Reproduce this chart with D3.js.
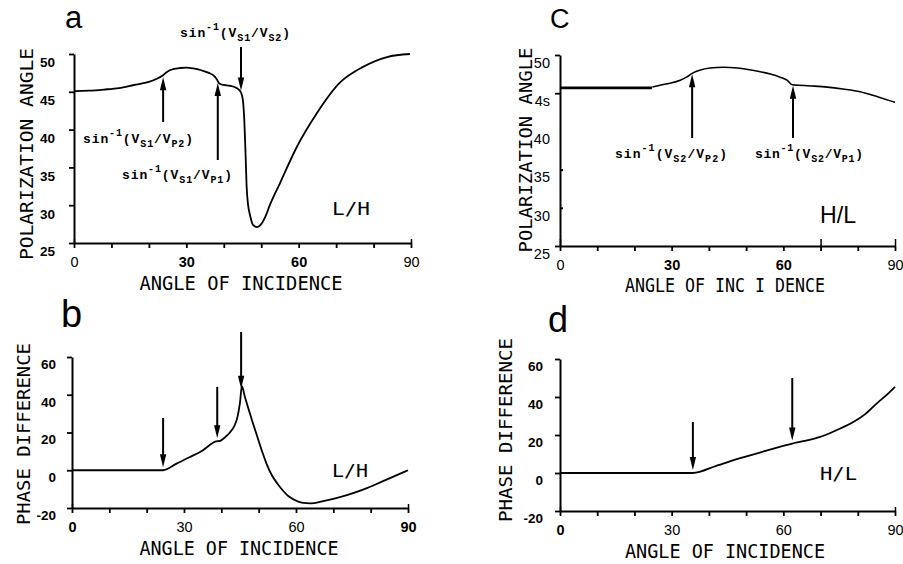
<!DOCTYPE html>
<html>
<head>
<meta charset="utf-8">
<script src="https://cdn.jsdelivr.net/npm/d3@7/dist/d3.min.js"></script>
<style>
  html, body { margin: 0; padding: 0; background: #fff; }
  svg { display: block; }
</style>
</head>
<body>
<svg id="chart" width="903" height="564"></svg>
<script>
// ---------------- DATA ----------------
const xTicks = [0, 30, 60, 90];
const xMinorTicks = [0, 10, 20, 30, 40, 50, 60, 70, 80, 90];
const polTicks = [25, 30, 35, 40, 45, 50];
const polTickLabelsC = ["25", "30", "35", "40", "4s", "50"];
const phaseTicks = [-20, 0, 20, 40, 60];

// panel a : L/H polarization angle
const angleA = [0, 4, 8, 12, 16, 20, 22, 23.8, 25, 26.5, 28.3, 30, 31.8, 34, 36, 37.6, 38.2, 38.8, 40, 41.5, 43, 44, 44.6, 45.1, 45.5, 45.8, 46.1, 46.5, 47.0, 47.8, 48.9, 50.0, 51.2, 52.3, 55.0, 59.5, 64.9, 71.0, 77.2, 83.6, 89.7];
const polA   = [45.1, 45.15, 45.3, 45.5, 45.9, 46.3, 46.7, 47.2, 47.7, 48.0, 48.15, 48.2, 48.1, 47.85, 47.5, 47.0, 46.6, 46.1, 45.9, 45.8, 45.6, 45.3, 44.9, 43.9, 41, 37, 32.5, 30.0, 28.7, 27.4, 27.1, 27.5, 28.6, 30.0, 32.9, 37.7, 42.2, 46.2, 48.3, 49.6, 50.0];

// panel b : L/H phase difference
const angleB = [0, 10, 20, 24.4, 28, 31.6, 35, 38.6, 39.6, 41, 42.3, 43.5, 44.3, 45.0, 45.5, 46.3, 47.2, 48.3, 49.6, 51, 52.2, 53.5, 55, 56.6, 58, 59.5, 61.5, 64, 67, 70, 74.5, 79, 83.3, 87, 90];
const phaseB = [0, 0, 0, 0, 3.5, 7, 10.5, 15.3, 15.5, 17.5, 20, 23.5, 28, 36, 44.5, 39, 33, 26, 18, 9.5, 3, -2.5, -7, -11, -13.8, -15.6, -17.1, -17.5, -16.5, -15.2, -12.7, -9.5, -5.8, -2.6, 0];

// panel c : H/L polarization angle (two drawn pieces)
const angleC1 = [0, 24.7];
const polC1   = [45.7, 45.7];
const angleC2 = [24.8, 26.9, 29.5, 32.3, 34, 35.5, 37.5, 40.3, 44, 47.6, 50.5, 53.8, 56.5, 59.1, 61, 62.4, 64, 67.5, 71.8, 76, 80.6, 85.5, 90];
const polC2   = [45.8, 46.05, 46.3, 46.7, 47.1, 47.6, 48.0, 48.3, 48.4, 48.3, 48.1, 47.8, 47.5, 47.1, 46.7, 46.1, 46.05, 45.95, 45.8, 45.55, 45.2, 44.5, 43.8];

// panel d : H/L phase difference
const angleD = [0, 10, 20, 30, 35.7, 42, 48.4, 55, 62.4, 65, 69.9, 74, 78.8, 82, 85.2, 88, 90];
const phaseD = [0, 0, 0, 0, 0, 3.8, 7.8, 11.5, 15.5, 16.6, 19, 22.3, 26.8, 31, 36.8, 41.5, 45.3];

// critical angles marked by arrows
const criticalA = [23.8, 38.4, 44.6];
const criticalB = [24.4, 38.9, 45.3];
const criticalC = [35.5, 62.6];
const criticalD = [35.7, 62.4];

// ---------------- DRAWING ----------------
const svg = d3.select("#chart");
const TITLE_FONT = "'DejaVu Sans Mono', 'Liberation Mono', monospace";
const NUM_FONT = "'Liberation Sans', Arial, sans-serif";
const SIN_FONT = "'Liberation Mono', 'DejaVu Sans Mono', monospace";

function valueAt(xs, ys, a) {
  for (let i = 1; i < xs.length; i++) {
    if (a <= xs[i]) {
      const t = (a - xs[i - 1]) / (xs[i] - xs[i - 1]);
      return ys[i - 1] + t * (ys[i] - ys[i - 1]);
    }
  }
  return ys[ys.length - 1];
}

function drawCurve(g, x, y, xs, ys, width) {
  const pts = xs.map((a, i) => [a, ys[i]]);
  g.append("path")
    .datum(pts)
    .attr("fill", "none")
    .attr("stroke", "#000")
    .attr("stroke-width", width)
    .attr("stroke-linejoin", "round")
    .attr("d", d3.line().x(d => x(d[0])).y(d => y(d[1])).curve(d3.curveMonotoneX));
}

function arrow(g, px, tailY, tipY) {
  const dir = tipY > tailY ? 1 : -1;
  const headLen = 13, headW = 3.2;
  g.append("line")
    .attr("x1", px).attr("x2", px)
    .attr("y1", tailY).attr("y2", tipY - dir * headLen * 0.8)
    .attr("stroke", "#000").attr("stroke-width", 2);
  g.append("path")
    .attr("d", `M${px},${tipY} L${px - headW},${tipY - dir * headLen} L${px + headW},${tipY - dir * headLen} Z`)
    .attr("fill", "#000");
}

function sinLabel(g, x, yb, sub1, sub2, width) {
  const t = g.append("text")
    .attr("x", x).attr("y", yb)
    .attr("font-family", SIN_FONT)
    .attr("font-weight", "bold")
    .attr("font-size", 13)
    .attr("textLength", width)
    .attr("lengthAdjust", "spacing");
  t.append("tspan").text("sin");
  t.append("tspan").attr("dy", -7).attr("font-size", 10).text("-1");
  t.append("tspan").attr("dy", 7).text("(V");
  t.append("tspan").attr("dy", 4).attr("font-size", 10).text(sub1);
  t.append("tspan").attr("dy", -4).text("/V");
  t.append("tspan").attr("dy", 4).attr("font-size", 10).text(sub2);
  t.append("tspan").attr("dy", -4).text(")");
}

function styleAxis(sel) {
  sel.select(".domain").attr("stroke", "#000").attr("stroke-width", 2);
  sel.selectAll(".tick line").attr("stroke", "#000").attr("stroke-width", 1.8);
}

function panel(cfg) {
  const g = svg.append("g");
  const x = d3.scaleLinear().domain([0, 90]).range(cfg.xr);
  const y = d3.scaleLinear().domain(cfg.yd).range(cfg.yr);

  // x axis line with minor ticks
  const xa = g.append("g").attr("transform", `translate(0,${cfg.yr[0]})`)
    .call(d3.axisBottom(x).tickValues(xMinorTicks).tickSize(5).tickSizeOuter(0).tickFormat(""));
  styleAxis(xa);
  // ticks crossing above the axis
  g.append("g").attr("transform", `translate(0,${cfg.yr[0]})`)
    .call(d3.axisTop(x).tickValues(cfg.xUpTicks).tickSize(cfg.xUpSize).tickFormat(""))
    .call(s => { s.select(".domain").remove(); s.selectAll(".tick line").attr("stroke", "#000").attr("stroke-width", 1.5); });

  // x tick labels
  const xl = g.append("g").attr("transform", `translate(0,${cfg.yr[0]})`)
    .call(d3.axisBottom(x).tickValues(xTicks).tickSize(0).tickPadding(cfg.xPad));
  xl.select(".domain").remove();
  xl.selectAll(".tick text")
    .attr("font-family", NUM_FONT)
    .attr("font-size", 14.5)
    .attr("fill", "#000")
    .attr("font-weight", (d, i) => cfg.xBold[i] ? "bold" : "normal");

  // y axis
  const ya = g.append("g").attr("transform", `translate(${cfg.xr[0]},0)`)
    .call(d3.axisLeft(y).tickValues(cfg.yTickMarks).tickSize(5).tickSizeOuter(0).tickFormat(""));
  styleAxis(ya);
  if (cfg.yRightTicks) {
    g.append("g").attr("transform", `translate(${cfg.xr[0]},0)`)
      .call(d3.axisRight(y).tickValues(cfg.yRightTicks).tickSize(3).tickFormat(""))
      .call(s => { s.select(".domain").remove(); s.selectAll(".tick line").attr("stroke", "#000").attr("stroke-width", 2); });
  }
  const yl = g.append("g").attr("transform", `translate(${cfg.xr[0]},0)`)
    .call(d3.axisLeft(y).tickValues(cfg.yTicks).tickSize(0).tickPadding(cfg.yPad)
      .tickFormat((d, i) => cfg.yLabels ? cfg.yLabels[i] : d));
  yl.select(".domain").remove();
  yl.selectAll(".tick text")
    .attr("font-family", NUM_FONT)
    .attr("font-size", cfg.yFont)
    .attr("font-weight", cfg.yBold ? "bold" : "normal")
    .attr("fill", "#000")
    .attr("dy", cfg.yDy);

  // axis titles
  g.append("text")
    .attr("x", cfg.xTitle[0]).attr("y", cfg.xTitle[1])
    .attr("text-anchor", "middle")
    .attr("font-family", TITLE_FONT).attr("font-size", 19)
    .attr("textLength", cfg.xTitle[2]).attr("lengthAdjust", "spacingAndGlyphs")
    .text(cfg.xTitleText);
  g.append("text")
    .attr("transform", `translate(${cfg.yTitle[0]},${cfg.yTitle[1]}) rotate(-90)`)
    .attr("text-anchor", "middle")
    .attr("font-family", TITLE_FONT).attr("font-size", 18)
    .attr("textLength", cfg.yTitle[2]).attr("lengthAdjust", "spacingAndGlyphs")
    .text(cfg.yTitleText);

  // panel letter
  g.append("text")
    .attr("x", cfg.letter[0]).attr("y", cfg.letter[1])
    .attr("font-family", NUM_FONT).attr("font-size", cfg.letter[2])
    .text(cfg.letterText);

  // case label
  g.append("text")
    .attr("x", cfg.caseLabel[0]).attr("y", cfg.caseLabel[1])
    .attr("font-family", cfg.caseFont).attr("font-size", cfg.caseLabel[2])
    .attr("textLength", cfg.caseLabel[3]).attr("lengthAdjust", "spacingAndGlyphs")
    .text(cfg.caseText);

  return { g, x, y };
}

// ---- Panel a ----
{
  const p = panel({
    xr: [74, 411], yd: [25, 50], yr: [243, 54],
    xUpTicks: [0, 90], xUpSize: 4, xPad: 14, xBold: [false, true, true, false],
    yTicks: polTicks, yTickMarks: polTicks, yPad: 19, yFont: 13.5, yBold: true, yDy: "0.95em",
    xTitle: [241, 290, 203], xTitleText: "ANGLE OF INCIDENCE",
    yTitle: [33, 154, 212], yTitleText: "POLARIZATION ANGLE",
    letter: [65, 28, 31], letterText: "a",
    caseLabel: [332, 215, 17, 38], caseText: "L/H", caseFont: TITLE_FONT
  });
  drawCurve(p.g, p.x, p.y, angleA, polA, 1.8);
  arrow(p.g, p.x(criticalA[0]), 122, p.y(valueAt(angleA, polA, criticalA[0])) + 2);
  arrow(p.g, p.x(criticalA[1]), 160, p.y(valueAt(angleA, polA, criticalA[1])) + 2);
  arrow(p.g, p.x(criticalA[2]), 47, p.y(valueAt(angleA, polA, criticalA[2])) - 2);
  sinLabel(p.g, 83, 143, "S1", "P2", 110);
  sinLabel(p.g, 122, 179, "S1", "P1", 110);
  sinLabel(p.g, 180, 37, "S1", "S2", 110);
}

// ---- Panel b ----
{
  const p = panel({
    xr: [72, 408], yd: [-20, 60], yr: [508, 357],
    xUpTicks: [0, 90], xUpSize: 4, xPad: 14, xBold: [true, false, false, true],
    yTicks: phaseTicks, yTickMarks: phaseTicks, yPad: 16, yFont: 13.5, yBold: true, yDy: "0.85em",
    xTitle: [239, 555, 199], xTitleText: "ANGLE OF INCIDENCE",
    yTitle: [30, 434, 182], yTitleText: "PHASE DIFFERENCE",
    letter: [61, 327, 38], letterText: "b",
    caseLabel: [332, 477, 17, 36], caseText: "L/H", caseFont: TITLE_FONT
  });
  drawCurve(p.g, p.x, p.y, angleB, phaseB, 1.8);
  arrow(p.g, p.x(criticalB[0]), 418, p.y(valueAt(angleB, phaseB, criticalB[0])) - 3);
  arrow(p.g, p.x(criticalB[1]), 387, p.y(valueAt(angleB, phaseB, criticalB[1])) - 3);
  arrow(p.g, p.x(criticalB[2]), 332, p.y(valueAt(angleB, phaseB, criticalB[2])) - 4);
}

// ---- Panel c ----
{
  const p = panel({
    xr: [560, 895], yd: [25, 50], yr: [246, 55],
    xUpTicks: [0, 70, 90], xUpSize: 7, xPad: 14, xBold: [false, true, true, false],
    yTicks: polTicks, yLabels: polTickLabelsC, yTickMarks: [25, 45, 50], yRightTicks: [30, 35],
    yPad: 10, yFont: 14.5, yBold: false, yDy: "0.85em",
    xTitle: [725, 292, 200], xTitleText: "ANGLE OF INC I DENCE",
    yTitle: [532, 150, 205], yTitleText: "POLARIZATION ANGLE",
    letter: [550, 28, 27], letterText: "C",
    caseLabel: [820, 223, 24, 36], caseText: "H/L", caseFont: NUM_FONT
  });
  drawCurve(p.g, p.x, p.y, angleC1, polC1, 2.6);
  drawCurve(p.g, p.x, p.y, angleC2, polC2, 1.6);
  arrow(p.g, p.x(criticalC[0]), 138, p.y(valueAt(angleC2, polC2, criticalC[0])) + 1);
  arrow(p.g, p.x(criticalC[1]), 138, p.y(valueAt(angleC2, polC2, criticalC[1])) + 1);
  sinLabel(p.g, 615, 158, "S2", "P2", 112);
  sinLabel(p.g, 755, 158, "S2", "P1", 108);
}

// ---- Panel d ----
{
  const p = panel({
    xr: [560, 895], yd: [-20, 60], yr: [511, 359],
    xUpTicks: [0, 90], xUpSize: 4, xPad: 14, xBold: [true, false, false, false],
    yTicks: phaseTicks, yTickMarks: phaseTicks, yPad: 17, yFont: 13.5, yBold: true, yDy: "0.85em",
    xTitle: [725, 558, 200], xTitleText: "ANGLE OF INCIDENCE",
    yTitle: [512, 430, 184], yTitleText: "PHASE DIFFERENCE",
    letter: [548, 332, 36], letterText: "d",
    caseLabel: [820, 480, 17, 37], caseText: "H/L", caseFont: TITLE_FONT
  });
  drawCurve(p.g, p.x, p.y, angleD, phaseD, 1.8);
  arrow(p.g, p.x(criticalD[0]), 422, p.y(valueAt(angleD, phaseD, criticalD[0])) - 3);
  arrow(p.g, p.x(criticalD[1]), 378, p.y(valueAt(angleD, phaseD, criticalD[1])) - 3);
}
</script>
</body>
</html>
